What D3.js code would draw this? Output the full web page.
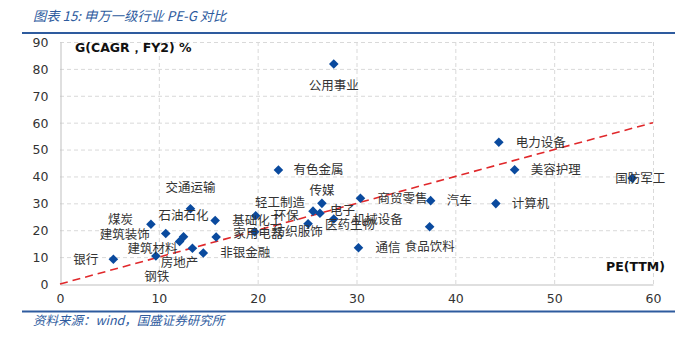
<!DOCTYPE html>
<html><head><meta charset="utf-8">
<script src="https://cdn.jsdelivr.net/npm/d3@7"></script>
<style>
html,body{margin:0;padding:0;background:#fff;}
svg{display:block;}
</style></head>
<body>
<svg id="chart" width="678" height="347"></svg>
<script>
// ---- data ----
const industries = ["公用事业","电力设备","美容护理","国防军工","有色金属","汽车","计算机","食品饮料","通信","商贸零售",
  "传媒","轻工制造","电子","机械设备","医药生物","环保","纺织服饰","基础化工","家用电器","非银金融",
  "建筑材料","交通运输","石油石化","房地产","建筑装饰","煤炭","钢铁","银行"];
const pe = [27.7,44.4,46.0,57.9,22.1,37.5,44.1,37.4,30.2,30.4,
  26.5,25.6,26.3,27.7,25.1,19.8,19.7,15.7,15.8,14.5,
  13.4,13.2,12.5,12.1,10.7,9.2,9.7,5.4];
const growth = [81.8,52.7,42.5,39.3,42.4,31.0,29.9,21.3,13.5,31.9,
  30.0,27.1,26.3,24.2,22.4,25.4,19.4,23.6,17.5,11.5,
  13.3,28.0,17.6,15.8,18.8,22.2,10.4,9.2];
const xTicks = [0,10,20,30,40,50,60];
const yTicks = [0,10,20,30,40,50,60,70,80,90];
const titleText = "图表 15:  申万一级行业 PE-G 对比";
const sourceText = "资料来源：wind，国盛证券研究所";
const yTitle = "G(CAGR，FY2) %";
const xTitle = "PE(TTM)";

// ---- label placement (layout only) ----
const labelPos = {
  "公用事业":["middle",0,22], "电力设备":["start",17,0], "美容护理":["start",16,0],
  "国防军工":["middle",8,0], "有色金属":["start",15,0], "汽车":["start",16,0],
  "计算机":["start",16,0], "食品饮料":["middle",0,20], "通信":["start",17,0],
  "商贸零售":["start",17,0], "传媒":["middle",0,-13], "轻工制造":["end",-8,-9],
  "电子":["start",10,-3], "机械设备":["start",19,1], "医药生物":["start",17,1],
  "环保":["start",18,0], "纺织服饰":["start",18,0], "基础化工":["start",17,0],
  "家用电器":["start",17,-3], "非银金融":["start",17,0], "建筑材料":["end",-15,0],
  "交通运输":["middle",0,-21], "石油石化":["middle",0,-21], "房地产":["middle",0,21],
  "建筑装饰":["end",-16,1], "煤炭":["end",-18,-5], "钢铁":["middle",1,21], "银行":["end",-15,0]
};

const svg = d3.select("#chart");
const m = {left:60, right:653, top:42, bottom:284};
const x = d3.scaleLinear().domain([0,60]).range([m.left, m.right]);
const y = d3.scaleLinear().domain([0,90]).range([m.bottom, m.top]);

const blue = "#2e5b9e";
// title
svg.append("text").attr("x",33).attr("y",21).text(titleText)
  .attr("font-family","'Noto Sans CJK SC', sans-serif").attr("font-size",13.3)
  .attr("font-style","italic").attr("fill",blue);
svg.append("line").attr("x1",22).attr("x2",675).attr("y1",33).attr("y2",33)
  .attr("stroke",blue).attr("stroke-width",2);
// footer
svg.append("line").attr("x1",22).attr("x2",675).attr("y1",311.5).attr("y2",311.5)
  .attr("stroke",blue).attr("stroke-width",2);
svg.append("text").attr("x",33).attr("y",325).text(sourceText)
  .attr("font-family","'Noto Sans CJK SC', sans-serif").attr("font-size",12.5)
  .attr("font-style","italic").attr("fill",blue);

// grid
const grid = svg.append("g");
grid.selectAll("line.h").data(yTicks.filter(d=>d>0)).enter().append("line")
  .attr("x1",m.left).attr("x2",m.right).attr("y1",d=>y(d)+0.5).attr("y2",d=>y(d)+0.5)
  .attr("stroke","#d9d9d9").attr("stroke-dasharray","4,3");
grid.selectAll("line.v").data(xTicks.filter(d=>d>0)).enter().append("line")
  .attr("y1",m.top).attr("y2",m.bottom).attr("x1",d=>x(d)+0.5).attr("x2",d=>x(d)+0.5)
  .attr("stroke","#d9d9d9").attr("stroke-dasharray","4,3");

// axes
const xAxis = d3.axisBottom(x).tickValues(xTicks).tickSize(0).tickPadding(10);
const yAxis = d3.axisLeft(y).tickValues(yTicks).tickSize(0).tickPadding(12);
const gx = svg.append("g").attr("transform",`translate(0,${m.bottom+0.5})`).call(xAxis);
const gy = svg.append("g").attr("transform",`translate(${m.left+0.5},0)`).call(yAxis);
[gx,gy].forEach(g=>{
  g.select(".domain").attr("stroke","#bfbfbf");
  g.selectAll("text").attr("font-family","'DejaVu Sans', sans-serif").attr("font-size",12.5).attr("fill","#333");
});
gy.selectAll("text").attr("dy","0.35em");

// PE = G line
svg.append("line").attr("x1",x(0)).attr("y1",y(0)).attr("x2",x(60)).attr("y2",y(60))
  .attr("stroke","#e0282b").attr("stroke-width",1.6).attr("stroke-dasharray","8,5");

// axis titles
svg.append("text").attr("x",75).attr("y",52).text(yTitle)
  .attr("font-family","'DejaVu Sans', sans-serif").attr("font-weight","bold").attr("font-size",12.5).attr("fill","#111");
svg.append("text").attr("x",665).attr("y",271).attr("text-anchor","end").text(xTitle)
  .attr("font-family","'DejaVu Sans', sans-serif").attr("font-weight","bold").attr("font-size",12.5).attr("fill","#111");

// points
const pts = industries.map((n,i)=>({name:n, pe:pe[i], g:growth[i]}));
const sym = d3.symbol().type(d3.symbolSquare).size(46);
svg.append("g").selectAll("path").data(pts).enter().append("path")
  .attr("d",sym)
  .attr("transform",d=>`translate(${x(d.pe)},${y(d.g)}) rotate(45)`)
  .attr("fill","#0a4a9e");

// labels
svg.append("g").selectAll("text").data(pts).enter().append("text")
  .attr("x",d=>x(d.pe)+labelPos[d.name][1])
  .attr("y",d=>y(d.g)+labelPos[d.name][2])
  .attr("text-anchor",d=>labelPos[d.name][0])
  .attr("dy","0.35em")
  .attr("font-family","'Noto Sans CJK SC', sans-serif").attr("font-size",12.5)
  .attr("fill","#333")
  .text(d=>d.name);
</script>
</body></html>
